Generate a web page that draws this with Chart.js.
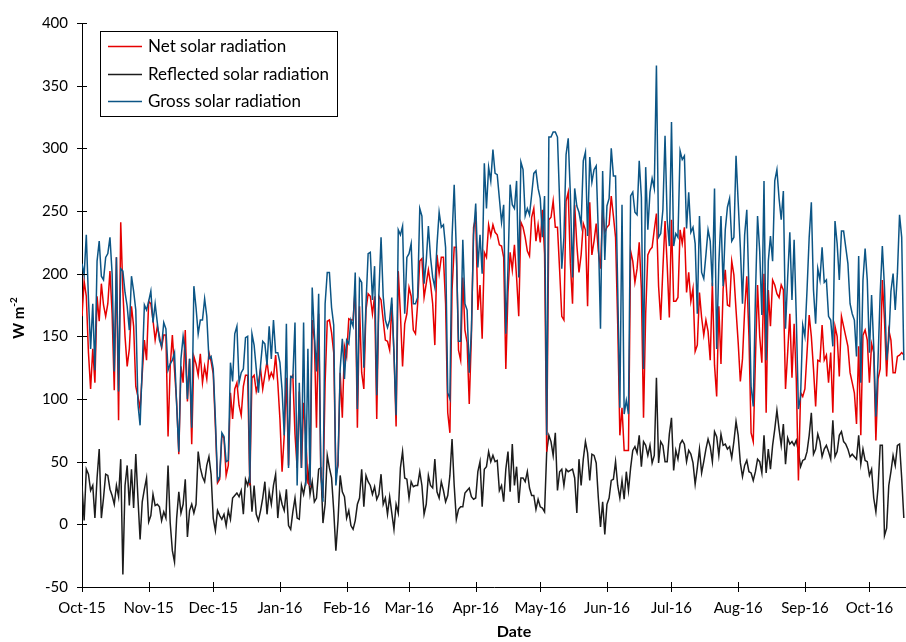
<!DOCTYPE html>
<html>
<head>
<meta charset="utf-8">
<title>Daily solar radiation</title>
<script src="https://cdn.jsdelivr.net/npm/chart.js@4.4.1/dist/chart.umd.min.js"></script>
<style>
  html, body { margin: 0; padding: 0; background: #ffffff; }
  #wrap { width: 906px; height: 642px; position: relative; }
</style>
</head>
<body>
<div id="wrap"><canvas id="chart" width="906" height="642"></canvas></div>
<script>
// Daily means from 1 Oct 2015; index = days since that date.
const monthLabels = ['Oct-15','Nov-15','Dec-15','Jan-16','Feb-16','Mar-16','Apr-16','May-16','Jun-16','Jul-16','Aug-16','Sep-16','Oct-16'];
const monthStartDays = [0, 31, 61, 92, 123, 152, 183, 213, 244, 274, 305, 336, 366];
const yTickValues = [-50, 0, 50, 100, 150, 200, 250, 300, 350, 400];

const netSolar = [
  166,194,182,137,108,140,113,182,162,192,175,166,176,202,168,107,213,83,241,186,150,126,140,174,158,110,102,92,120,147,131,178,176,163,147,158,150,141,151,
  151,70,126,151,123,97,56,126,113,155,98,132,64,134,128,119,136,113,126,116,137,130,120,78,33,36,71,69,39,47,105,84,108,113,95,87,110,119,
  119,31,117,119,106,113,124,108,119,130,116,121,117,135,113,84,42,71,117,47,117,119,72,45,106,45,97,71,33,31,163,147,77,168,42,21,113,162,
  163,153,137,39,47,121,85,142,134,164,163,163,189,77,174,121,108,171,184,182,168,182,84,182,179,163,147,146,139,176,137,78,202,168,126,160,168,189,182,
  155,152,176,210,212,181,192,203,192,176,143,215,200,213,213,176,89,73,187,221,221,139,131,197,155,145,96,150,237,245,171,191,148,217,213,239,230,239,233,
  231,223,222,213,124,185,217,203,223,197,166,241,237,229,218,214,245,252,226,239,225,251,216,58,243,245,258,237,237,203,166,163,258,265,208,176,255,223,
  201,215,240,235,174,257,215,226,240,218,204,251,233,237,239,262,246,229,160,71,93,59,59,59,218,210,193,204,225,188,85,168,215,219,221,235,248,190,
  163,204,242,207,165,243,178,178,181,235,224,237,185,201,178,188,138,143,185,165,151,163,154,131,193,127,102,174,128,188,203,175,174,210,199,171,145,114,132,
  171,198,150,73,66,131,191,150,129,200,89,187,158,195,191,184,181,191,187,108,137,168,117,160,116,35,105,102,108,137,167,150,124,94,131,130,159,131,135,113,
  137,89,158,150,118,166,158,150,142,121,113,105,80,142,71,151,155,147,113,144,137,67,116,124,195,163,118,155,147,121,121,134,135,137,135
];

const reflectedSolar = [
  31,3,44,40,27,31,5,37,60,5,21,40,39,28,23,16,31,22,52,-40,31,47,15,44,13,56,21,-12,18,28,37,2,7,24,15,16,14,3,10,
  5,47,1,-21,-30,5,26,9,16,36,-10,11,16,9,16,58,45,38,34,47,54,40,5,-5,11,7,4,8,-1,11,4,21,23,25,22,27,8,36,
  31,39,10,31,8,3,11,21,34,8,26,16,31,40,5,24,16,11,28,-1,-4,10,21,5,4,31,24,34,44,24,34,18,21,44,45,1,16,55,
  45,37,11,-21,3,39,26,22,5,11,-1,-4,3,16,21,44,14,39,34,31,24,30,20,24,40,16,21,8,22,9,-4,16,9,45,58,37,36,21,34,
  30,31,31,42,31,8,16,39,31,29,52,26,21,34,27,18,23,39,68,31,4,12,14,14,25,27,29,22,20,21,42,50,14,44,46,58,50,55,50,
  51,27,31,18,44,58,26,64,31,46,17,37,37,34,42,29,23,23,12,20,14,13,10,58,71,66,55,73,27,42,44,31,44,42,43,44,37,9,
  52,31,52,66,57,35,56,55,49,21,-2,18,-8,16,21,35,36,50,31,21,35,20,42,27,45,59,62,57,71,46,66,63,55,63,49,55,117,49,
  66,63,50,50,72,85,43,59,52,64,67,64,50,59,56,49,32,45,60,41,50,60,68,62,50,74,70,55,72,63,64,60,62,53,66,82,71,49,38,
  47,51,42,41,35,42,52,50,41,71,41,60,44,63,76,91,76,63,80,48,69,64,66,63,67,58,46,51,52,58,71,89,56,60,72,66,54,60,63,58,
  52,83,54,58,71,74,66,64,60,54,56,54,52,71,48,60,51,50,39,44,21,10,29,63,63,-9,-3,31,42,55,47,63,64,37,5
];

const grossSolar = [
  208,199,231,180,140,176,123,210,226,198,195,213,216,229,200,122,213,106,204,202,185,174,155,198,186,171,96,79,126,175,171,178,186,161,176,161,147,142,161,
  156,123,128,131,137,95,58,132,150,137,100,132,77,190,173,152,163,163,180,166,132,134,124,84,35,38,73,70,50,51,129,114,152,158,113,121,124,149,
  150,33,152,143,124,105,127,146,144,127,158,132,163,137,137,129,107,71,160,45,118,117,161,31,113,45,161,31,140,31,189,152,122,184,42,18,176,201,
  201,173,159,31,50,124,148,116,147,144,163,158,201,92,196,193,125,176,216,217,179,206,103,184,229,182,163,157,163,181,137,87,235,231,238,168,213,216,224,
  176,176,181,252,246,192,210,238,213,197,189,223,249,237,239,221,105,100,229,271,218,146,146,227,176,171,121,155,231,256,205,231,200,288,252,285,274,299,280,
  279,260,241,255,152,205,271,255,252,274,197,289,283,246,252,247,263,280,282,268,260,229,262,71,309,309,313,313,309,258,204,229,295,308,263,197,268,254,
  249,239,290,297,230,293,273,283,286,232,156,282,211,254,260,300,278,278,188,93,255,88,99,88,262,265,249,247,290,261,124,285,235,265,276,268,366,229,
  232,251,310,243,222,321,222,232,229,298,291,294,236,265,233,237,224,168,246,201,196,215,235,226,190,268,140,208,246,190,235,253,260,226,229,294,257,221,176,
  231,251,187,110,94,181,246,218,167,274,131,210,230,210,274,283,260,243,266,156,197,233,179,227,166,92,102,159,150,187,229,257,187,160,204,195,221,193,195,166,
  163,142,242,224,195,234,234,221,208,176,168,163,134,214,113,195,220,195,137,183,142,86,131,184,222,189,131,147,186,200,171,200,247,229,131
];

const FONT = 'Lato, "Liberation Sans", sans-serif';
const toPoints = values => values.map((v, i) => ({ x: i, y: v }));

// Cross-style tick marks, boxed legend and axis titles.
const decorations = {
  id: 'decorations',
  afterDraw(chart) {
    const { ctx, chartArea: a, scales: { x, y } } = chart;
    ctx.save();
    ctx.strokeStyle = '#000';
    ctx.lineWidth = 1;
    ctx.beginPath();
    yTickValues.forEach(v => {
      const py = Math.round(y.getPixelForValue(v)) + 0.5;
      ctx.moveTo(a.left - 5, py); ctx.lineTo(a.left + 5, py);
    });
    monthStartDays.forEach(d => {
      const px = Math.round(x.getPixelForValue(d)) + 0.5;
      ctx.moveTo(px, a.bottom - 5); ctx.lineTo(px, a.bottom + 5);
    });
    ctx.stroke();

    // legend
    ctx.fillStyle = '#fff';
    ctx.fillRect(100, 31, 237, 85);
    ctx.strokeStyle = '#000';
    ctx.strokeRect(100.5, 31.5, 237, 85);
    const rowY = [46, 74, 101];
    ctx.font = '17px ' + FONT;
    ctx.textAlign = 'left';
    ctx.textBaseline = 'middle';
    chart.data.datasets.forEach((ds, i) => {
      ctx.strokeStyle = ds.borderColor;
      ctx.lineWidth = 1.5;
      ctx.beginPath();
      ctx.moveTo(108, rowY[i] + 0.5); ctx.lineTo(142, rowY[i] + 0.5);
      ctx.stroke();
      ctx.fillStyle = '#000';
      ctx.fillText(ds.label, 148, rowY[i] + 1);
    });

    // axis titles
    ctx.fillStyle = '#000';
    ctx.font = 'bold 16px ' + FONT;
    ctx.textAlign = 'center';
    ctx.fillText('Date', 514, 632);

    ctx.translate(19, 318);
    ctx.rotate(-Math.PI / 2);
    const main = 'W m', sup = '-2';
    ctx.font = 'bold 15px ' + FONT;
    const w1 = ctx.measureText(main).width;
    ctx.font = 'bold 10px ' + FONT;
    const w2 = ctx.measureText(sup).width;
    const start = -(w1 + w2) / 2;
    ctx.textAlign = 'left';
    ctx.font = 'bold 15px ' + FONT;
    ctx.fillText(main, start, 0);
    ctx.font = 'bold 10px ' + FONT;
    ctx.fillText(sup, start + w1, -5);
    ctx.restore();
  }
};

new Chart(document.getElementById('chart'), {
  type: 'line',
  data: {
    datasets: [
      { label: 'Net solar radiation', data: toPoints(netSolar), borderColor: '#e60000', order: 1 },
      { label: 'Reflected solar radiation', data: toPoints(reflectedSolar), borderColor: '#1c1c1c', order: 2 },
      { label: 'Gross solar radiation', data: toPoints(grossSolar), borderColor: '#0c5585', order: 0 }
    ]
  },
  options: {
    responsive: false,
    animation: false,
    devicePixelRatio: 1,
    layout: { padding: { top: 18, right: 0, bottom: 0, left: 0 } },
    elements: {
      line: { borderWidth: 1.5, tension: 0, fill: false },
      point: { radius: 0, hoverRadius: 0 }
    },
    plugins: { legend: { display: false }, tooltip: { enabled: false } },
    scales: {
      x: {
        type: 'linear',
        min: 0,
        max: 383,
        afterBuildTicks: scale => { scale.ticks = monthStartDays.map(v => ({ value: v })); },
        afterFit: scale => { scale.height = 55; },
        grid: { display: false, drawTicks: false },
        border: { display: true, color: '#000', width: 1 },
        ticks: {
          autoSkip: false,
          maxRotation: 0,
          padding: 12,
          color: '#000',
          font: { family: FONT, size: 15 },
          callback: (value, index) => monthLabels[index]
        }
      },
      y: {
        min: -50,
        max: 400,
        afterBuildTicks: scale => { scale.ticks = yTickValues.map(v => ({ value: v })); },
        afterFit: scale => { scale.width = 82; },
        grid: { display: false, drawTicks: false },
        border: { display: true, color: '#000', width: 1 },
        ticks: {
          padding: 14,
          color: '#000',
          font: { family: FONT, size: 15 }
        }
      }
    }
  },
  plugins: [decorations]
});
</script>
</body>
</html>
